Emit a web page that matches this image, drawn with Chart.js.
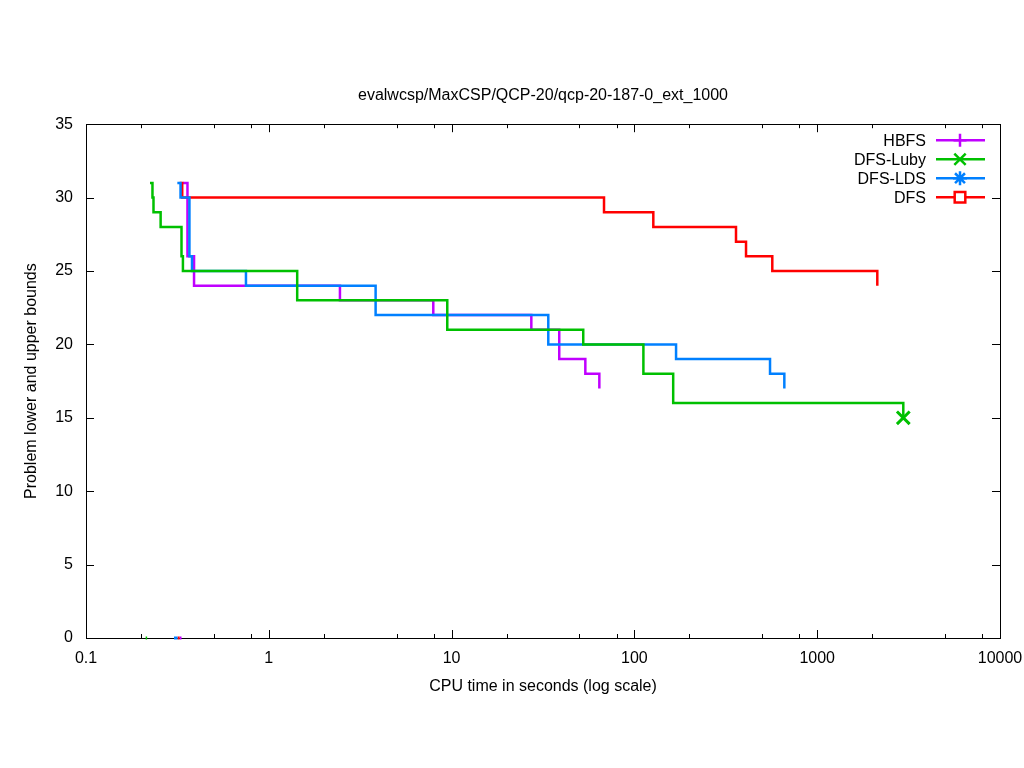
<!DOCTYPE html>
<html>
<head>
<meta charset="utf-8">
<title>qcp-20-187-0_ext_1000</title>
<script src="https://cdn.jsdelivr.net/npm/chart.js@4.4.1/dist/chart.umd.min.js"></script>
<style>
  html, body { margin: 0; padding: 0; background: #fff; }
  #wrap { width: 1024px; height: 768px; }
</style>
</head>
<body>
<div id="wrap"><canvas id="bounds_chart" width="1024" height="768"></canvas></div>
<script>
// CPU time (s) / bound values
var hbfsTime  = [0.338, 0.359, 0.390, 2.45, 7.94, 27.3, 38.8, 53.9, 64.3];
var hbfsBound = [31, 26, 24, 23, 22, 21, 19, 18, 17];

var lubyTime  = [0.224, 0.231, 0.234, 0.256, 0.333, 0.339, 1.43, 9.47, 52.5, 112, 163, 2958];
var lubyBound = [31, 30, 29, 28, 26, 25, 23, 21, 20, 18, 16, 15];

var ldsTime  = [0.316, 0.329, 0.368, 0.380, 0.750, 3.84, 33.8, 169, 552, 661];
var ldsBound = [31, 30, 26, 25, 24, 22, 20, 19, 18, 17];

var dfsTime  = [0.325, 0.336, 68.2, 126.9, 359.6, 408, 568, 2132];
var dfsBound = [31, 30, 29, 28, 27, 26, 25, 24];

// lower bounds (stay at 0)
var hbfsLowTime = [0.325, 0.333];
var lubyLowTime = [0.212, 0.216];
var ldsLowTime  = [0.303, 0.317];
var dfsLowTime  = [0.317, 0.325];
var lowBound    = [0, 0];

var xMajorTicks = [0.1, 1, 10, 100, 1000, 10000];
var xMinorSteps = [2, 5, 8];
var yTicks = [0, 5, 10, 15, 20, 25, 30, 35];

var names  = ['HBFS', 'DFS-Luby', 'DFS-LDS', 'DFS'];
var colors = ['#c000ff', '#00c000', '#0080ff', '#ff0000'];
var marks  = ['cross', 'crossRot', 'star', 'rect'];
var markSize = [6.5, 8, 7, 7.5];

function pts(xs, ys) {
  return xs.map(function(x, i){ return {x: x, y: ys[i]}; });
}

function stepSet(label, xs, ys, color, order) {
  return {
    label: label,
    data: pts(xs, ys),
    borderColor: color,
    backgroundColor: color,
    borderWidth: 2.5,
    stepped: true,
    pointRadius: 0,
    fill: false,
    order: order
  };
}

var luby = stepSet(names[1], lubyTime, lubyBound, colors[1], 1);
// marker only on the last (proven) point
luby.pointStyle = 'crossRot';
luby.pointBorderWidth = 3;
luby.pointRadius = function(c){ return c.dataIndex === lubyTime.length - 1 ? 9 : 0; };

function lowSet(xs, color, order) {
  var d = stepSet('', xs, lowBound, color, order);
  d.borderWidth = 3;
  d.clip = false;
  return d;
}

var datasets = [
  stepSet(names[0], hbfsTime, hbfsBound, colors[0], 4),
  luby,
  stepSet(names[2], ldsTime, ldsBound, colors[2], 2),
  stepSet(names[3], dfsTime, dfsBound, colors[3], 3),
  lowSet(hbfsLowTime, colors[0], 4),
  lowSet(lubyLowTime, colors[1], 1),
  lowSet(ldsLowTime, colors[2], 2),
  lowSet(dfsLowTime, colors[3], 3)
];

// border box with inward ticks on all four sides (gnuplot style)
var frame = {
  id: 'frame',
  beforeDatasetsDraw: function(chart) {
    var ctx = chart.ctx, a = chart.chartArea;
    var xs = chart.scales.x, ys = chart.scales.y;
    ctx.save();
    ctx.strokeStyle = '#000';
    ctx.lineWidth = 1;
    ctx.beginPath();
    xMajorTicks.forEach(function(v, i){
      var px = Math.round(xs.getPixelForValue(v)) + 0.5;
      ctx.moveTo(px, a.bottom); ctx.lineTo(px, a.bottom - 8);
      ctx.moveTo(px, a.top); ctx.lineTo(px, a.top + 8);
      if (i === xMajorTicks.length - 1) return;
      xMinorSteps.forEach(function(m){
        var mx = Math.round(xs.getPixelForValue(v * m)) + 0.5;
        ctx.moveTo(mx, a.bottom); ctx.lineTo(mx, a.bottom - 4);
        ctx.moveTo(mx, a.top); ctx.lineTo(mx, a.top + 4);
      });
    });
    yTicks.forEach(function(v){
      var py = Math.round(ys.getPixelForValue(v)) + 0.5;
      ctx.moveTo(a.left, py); ctx.lineTo(a.left + 8, py);
      ctx.moveTo(a.right, py); ctx.lineTo(a.right - 8, py);
    });
    ctx.stroke();
    ctx.strokeRect(Math.round(a.left) + 0.5, Math.round(a.top) + 0.5,
                   Math.round(a.right - a.left), Math.round(a.bottom - a.top));
    ctx.restore();
  }
};

// key in the top right corner: text, then line sample with marker
var key = {
  id: 'key',
  afterDraw: function(chart) {
    var ctx = chart.ctx, a = chart.chartArea;
    ctx.save();
    ctx.font = '16px "Liberation Sans", Arial, sans-serif';
    ctx.textAlign = 'right';
    ctx.textBaseline = 'middle';
    names.forEach(function(n, i){
      var y = a.top + 16 + i * 19;
      ctx.fillStyle = '#000';
      ctx.fillText(n, a.right - 74, y + 1);
      ctx.strokeStyle = colors[i];
      ctx.lineWidth = 2.5;
      ctx.beginPath();
      ctx.moveTo(a.right - 64, y); ctx.lineTo(a.right - 15, y);
      ctx.stroke();
      ctx.fillStyle = '#fff';
      Chart.helpers.drawPoint(ctx, {
        pointStyle: marks[i],
        radius: markSize[i],
        borderWidth: 2.5,
        rotation: 0
      }, a.right - 40, y);
    });
    ctx.restore();
  }
};

Chart.defaults.font.family = '"Liberation Sans", Arial, sans-serif';
Chart.defaults.font.size = 16;
Chart.defaults.color = '#000';

var ctx = document.getElementById('bounds_chart').getContext('2d');
new Chart(ctx, {
  type: 'line',
  data: { datasets: datasets },
  plugins: [frame, key],
  options: {
    responsive: false,
    animation: false,
    devicePixelRatio: 1,
    layout: { padding: { right: 24 } },
    plugins: {
      legend: { display: false },
      tooltip: { enabled: false },
      title: {
        display: true,
        fullSize: false,
        text: 'evalwcsp/MaxCSP/QCP-20/qcp-20-187-0_ext_1000',
        font: { size: 16, weight: 'normal' },
        color: '#000',
        padding: { top: 86, bottom: 19 }
      }
    },
    scales: {
      x: {
        type: 'logarithmic',
        min: 0.1,
        max: 10000,
        afterBuildTicks: function(s){ s.ticks = xMajorTicks.map(function(v){ return {value: v}; }); },
        afterFit: function(s){ s.height = 130; s.paddingLeft = 0; s.paddingRight = 0; },
        ticks: {
          autoSkip: false,
          maxRotation: 0,
          padding: 11,
          callback: function(v){ return String(v); }
        },
        grid: { display: false, drawTicks: false },
        border: { display: false },
        title: {
          display: true,
          text: 'CPU time in seconds (log scale)',
          padding: { top: 0, bottom: 72 }
        }
      },
      y: {
        type: 'linear',
        min: 0,
        max: 35,
        afterBuildTicks: function(s){ s.ticks = yTicks.map(function(v){ return {value: v}; }); },
        afterFit: function(s){ s.width = 86; s.paddingTop = 0; s.paddingBottom = 0; },
        ticks: { padding: 13 },
        grid: { display: false, drawTicks: false },
        border: { display: false },
        title: {
          display: true,
          text: 'Problem lower and upper bounds',
          padding: { top: 22, bottom: 0 }
        }
      }
    }
  }
});
</script>
</body>
</html>
